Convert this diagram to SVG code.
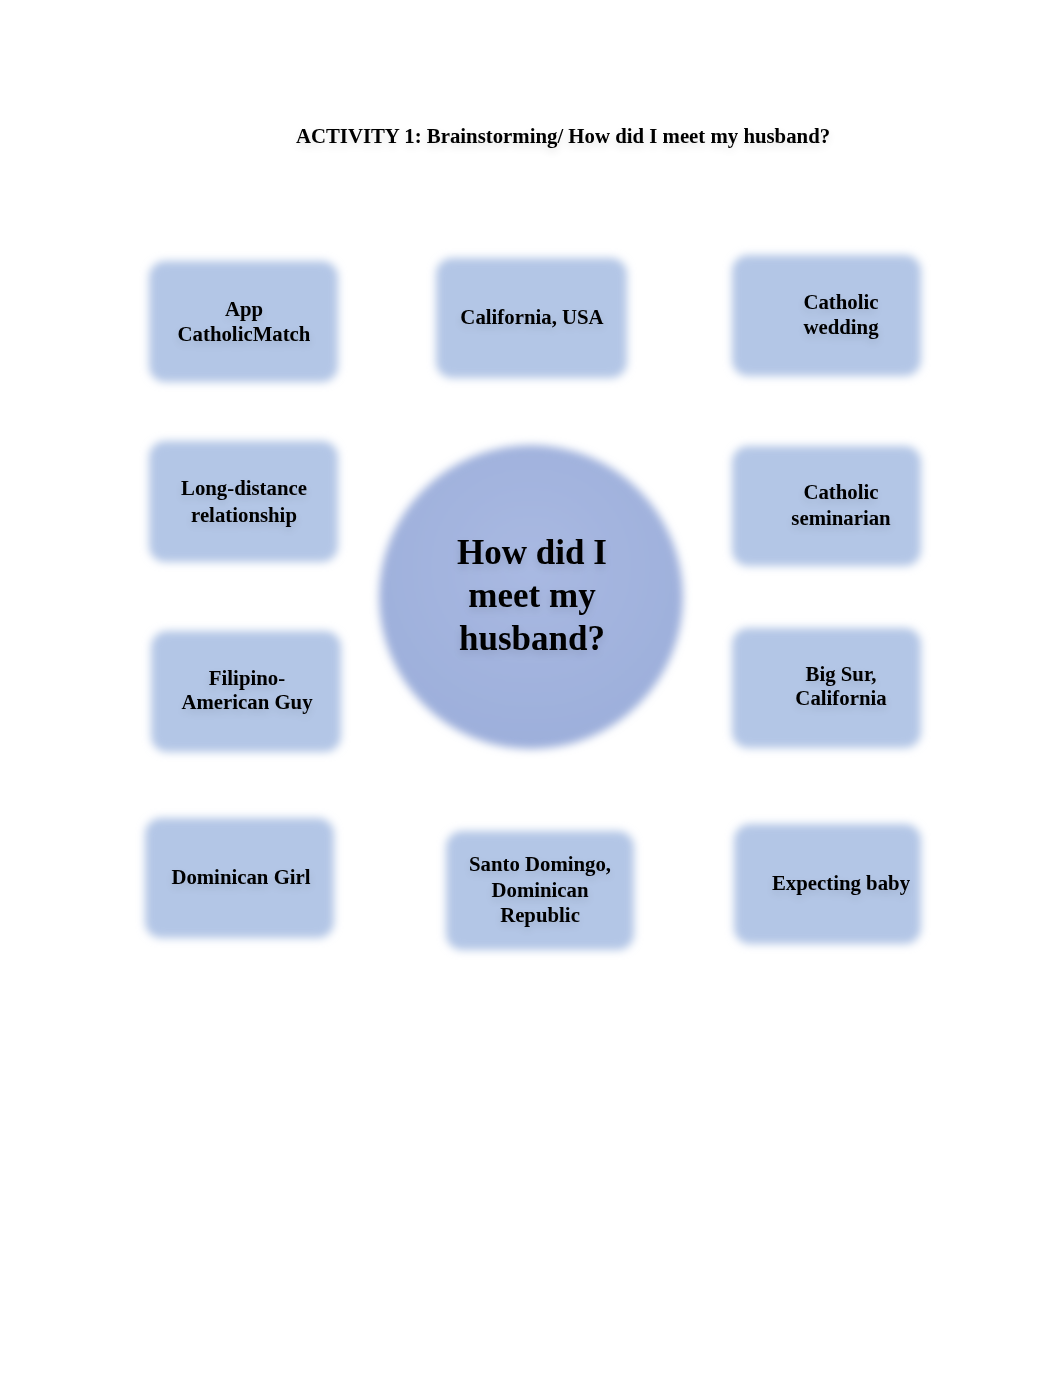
<svg xmlns="http://www.w3.org/2000/svg" width="1062" height="1376" viewBox="0 0 1062 1376">
<defs>
<filter id="soft" x="-20%" y="-20%" width="140%" height="140%"><feGaussianBlur stdDeviation="4"/></filter>
<filter id="tshadow" x="-10%" y="-30%" width="120%" height="180%"><feGaussianBlur in="SourceAlpha" stdDeviation="4" result="b"/><feOffset dy="4" result="o"/><feComponentTransfer in="o" result="s"><feFuncA type="linear" slope="0.12"/></feComponentTransfer><feMerge><feMergeNode in="s"/><feMergeNode in="SourceGraphic"/></feMerge></filter>
<radialGradient id="cg" cx="50%" cy="40%" r="60%"><stop offset="0" stop-color="#a9b9e2"/><stop offset="1" stop-color="#9dafdb"/></radialGradient>
</defs>
<style>
.box{fill:#b3c6e6;filter:url(#soft)}
.t{font-family:"Liberation Serif","Times New Roman",serif;font-weight:bold;font-size:20.8px;fill:#000;text-anchor:middle;filter:url(#tshadow)}
.big{font-size:35px}
</style>
<rect width="1062" height="1376" fill="#fff"/>
<text class="t" x="563" y="143">ACTIVITY 1: Brainstorming/ How did I meet my husband?</text>
<g id="connectors"></g>
<g id="center"><circle cx="531" cy="597" r="152" fill="url(#cg)" filter="url(#soft)"/>
<text class="t big" x="532" y="564">How did I</text><text class="t big" x="532" y="607">meet my</text><text class="t big" x="532" y="650">husband?</text></g>
<g id="n1"><rect class="box" x="149" y="261" width="189" height="121" rx="16"/><text class="t" x="244" y="316">App</text><text class="t" x="244" y="341">CatholicMatch</text></g>
<g id="n2"><rect class="box" x="436" y="258" width="191" height="120" rx="16"/><text class="t" x="532" y="324">California, USA</text></g>
<g id="n3"><rect class="box" x="732" y="255" width="189" height="121" rx="16"/><text class="t" x="841" y="309">Catholic</text><text class="t" x="841" y="334">wedding</text></g>
<g id="n4"><rect class="box" x="149" y="441" width="189" height="121" rx="16"/><text class="t" x="244" y="495">Long-distance</text><text class="t" x="244" y="522">relationship</text></g>
<g id="n5"><rect class="box" x="732" y="446" width="189" height="120" rx="16"/><text class="t" x="841" y="499">Catholic</text><text class="t" x="841" y="525">seminarian</text></g>
<g id="n6"><rect class="box" x="151" y="631" width="190" height="121" rx="16"/><text class="t" x="247" y="685">Filipino-</text><text class="t" x="247" y="709">American Guy</text></g>
<g id="n7"><rect class="box" x="732" y="628" width="189" height="120" rx="16"/><text class="t" x="841" y="681">Big Sur,</text><text class="t" x="841" y="705">California</text></g>
<g id="n8"><rect class="box" x="145" y="818" width="189" height="120" rx="16"/><text class="t" x="241" y="884">Dominican Girl</text></g>
<g id="n9"><rect class="box" x="446" y="831" width="188" height="119" rx="16"/><text class="t" x="540" y="871">Santo Domingo,</text><text class="t" x="540" y="897">Dominican</text><text class="t" x="540" y="922">Republic</text></g>
<g id="n10"><rect class="box" x="734" y="824" width="187" height="120" rx="16"/><text class="t" x="841" y="890">Expecting baby</text></g>
</svg>
